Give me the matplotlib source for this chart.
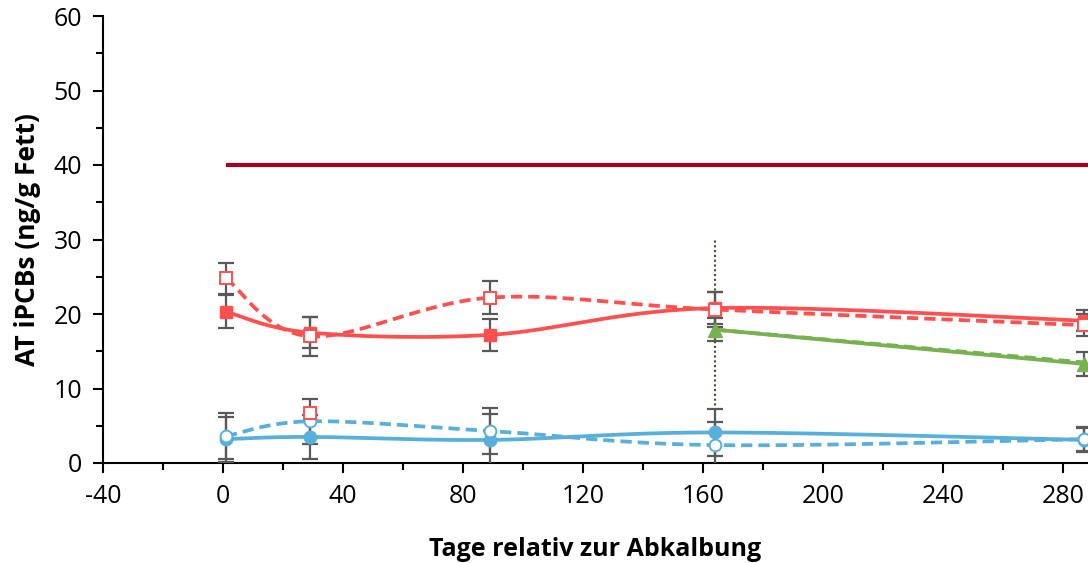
import matplotlib
matplotlib.use("Agg")
import matplotlib.pyplot as plt
import numpy as np
from matplotlib.ticker import MultipleLocator

plt.rcParams['font.family'] = ['Open Sans', 'DejaVu Sans']
plt.rcParams['axes.unicode_minus'] = False

# data
days = [1, 29, 89, 164, 287]
red_solid = [20.3, 17.5, 17.2, 20.8, 19.1]
red_solid_err = [2.2, 2.1, 2.1, 2.2, 1.4]
red_dashed = [24.8, 17.0, 22.2, 20.6, 18.5]
red_dashed_err = [2.1, 2.6, 2.2, 2.3, 1.5]
blue_solid = [3.2, 3.5, 3.1, 4.1, 3.1]
blue_solid_err = [3.0, 3.0, 3.5, 3.1, 1.6]
blue_dashed = [3.6, 5.6, 4.3, 2.4, 3.2]
blue_dashed_err = [3.1, 3.0, 3.1, 3.1, 1.6]
green_days = [164, 287]
green_solid = [17.9, 13.3]
green_dashed = [17.9, 13.5]
green_err = [1.5, 1.6]
extra_day = [29]
extra_val = [6.7]
limit_days = [1, 300]
limit_val = [40, 40]
calving_line_day = 164
calving_line_top = 30

RED = '#FF5050'
BLUE = '#57AFDA'
GREEN = '#77B150'
DARKRED = '#A50021'
ERR = '#595959'

# pixel scale used for Excel-like smoothing
SX, SY = 3.0, 7.45


def excel_smooth(x, y, n=40):
    p = np.column_stack([np.asarray(x, float) * SX, np.asarray(y, float) * SY])
    m = len(p)
    out = []
    for i in range(m - 1):
        p0 = p[i - 1] if i > 0 else p[i]
        p3 = p[i + 2] if i + 2 < m else p[i + 1]
        c1 = p[i] + (p[i + 1] - p0) / 6.0
        c2 = p[i + 1] - (p3 - p[i]) / 6.0
        t = np.linspace(0, 1, n)[:, None]
        seg = ((1 - t) ** 3) * p[i] + 3 * ((1 - t) ** 2) * t * c1 \
            + 3 * (1 - t) * t ** 2 * c2 + t ** 3 * p[i + 1]
        out.append(seg if i == 0 else seg[1:])
    out = np.vstack(out)
    return out[:, 0] / SX, out[:, 1] / SY


fig = plt.figure(figsize=(10.88, 5.63), dpi=100)
ax = fig.add_axes([103 / 1088, 100 / 563, 985 / 1088, 447 / 563])

# limit line and calving marker
ax.plot(limit_days, limit_val, color=DARKRED, lw=3, solid_capstyle='butt', zorder=2)
ax.plot([calving_line_day, calving_line_day], [0, calving_line_top],
        color='#375623', lw=1.5, ls=(0, (1, 1.3)), zorder=2)

ekw = dict(fmt='none', ecolor=ERR, elinewidth=1.6, capsize=6, capthick=1.6, zorder=3)
ax.errorbar(days, red_solid, yerr=red_solid_err, **ekw)
ax.errorbar(days, red_dashed, yerr=red_dashed_err, **ekw)
ax.errorbar(days, blue_solid, yerr=blue_solid_err, **ekw)
ax.errorbar(days, blue_dashed, yerr=blue_dashed_err, **ekw)
ax.errorbar(green_days, green_solid, yerr=green_err, **ekw)

LW = 2.7
dash = (0, (3.0, 1.6))

# red series
sx, sy = excel_smooth(days, red_solid)
ax.plot(sx, sy, color=RED, lw=LW, zorder=4)
ax.plot(days, red_solid, ls='none', marker='s', ms=9, color=RED, zorder=5)
sx, sy = excel_smooth(days, red_dashed)
ax.plot(sx, sy, color=RED, lw=LW, ls=dash, zorder=4)
ax.plot(days, red_dashed, ls='none', marker='s', ms=8.5, mfc='white', mec=RED, mew=1.4, zorder=5)

# blue series
sx, sy = excel_smooth(days, blue_solid)
ax.plot(sx, sy, color=BLUE, lw=LW, zorder=4)
ax.plot(days, blue_solid, ls='none', marker='o', ms=9, color=BLUE, zorder=5)
sx, sy = excel_smooth(days, blue_dashed)
ax.plot(sx, sy, color=BLUE, lw=LW, ls=dash, zorder=4)
ax.plot(days, blue_dashed, ls='none', marker='o', ms=8.5, mfc='white', mec=BLUE, mew=1.4, zorder=5)

# green series
ax.plot(green_days, green_solid, color=GREEN, lw=LW, marker='^', ms=10, zorder=4)
ax.plot(green_days, green_dashed, color=GREEN, lw=LW, ls=dash, zorder=4)

# stray point
ax.plot(extra_day, extra_val, ls='none', marker='s', ms=8.5, mfc='white', mec=RED, mew=1.4, zorder=6)

ax.set_xlim(-40, 288.3)
ax.set_ylim(0, 60)
ax.xaxis.set_major_locator(MultipleLocator(40))
ax.xaxis.set_minor_locator(MultipleLocator(20))
ax.yaxis.set_major_locator(MultipleLocator(10))
ax.yaxis.set_minor_locator(MultipleLocator(5))
ax.tick_params(axis='both', which='major', direction='out', length=7, width=1.5,
               labelsize=18, pad=8, colors='black')
ax.tick_params(axis='both', which='minor', direction='out', length=5, width=1.5)
for s in ['top', 'right']:
    ax.spines[s].set_visible(False)
for s in ['left', 'bottom']:
    ax.spines[s].set_linewidth(1.5)

ax.set_xlabel('Tage relativ zur Abkalbung', fontsize=18, fontweight='bold', labelpad=20)
ax.set_ylabel('AT iPCBs (ng/g Fett)', fontsize=19, fontweight='bold', labelpad=9)

fig.savefig('out.png', dpi=100)
